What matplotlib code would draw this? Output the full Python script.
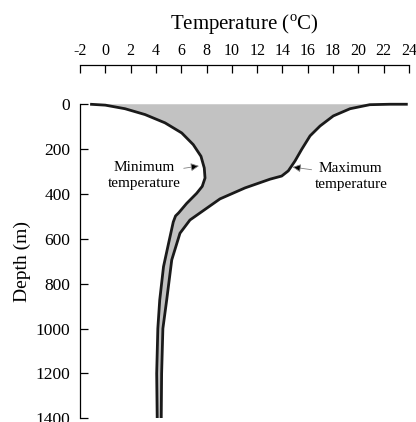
import numpy as np
import matplotlib.pyplot as plt

plt.rcParams['font.family'] = ['Liberation Serif', 'DejaVu Serif']
plt.rcParams['mathtext.fontset'] = 'custom'
plt.rcParams['mathtext.rm'] = 'Liberation Serif'
plt.rcParams['axes.unicode_minus'] = False

# minimum temperature profile (deg C vs depth m)
min_temp = [-1.2, 0.0, 1.56, 3.14, 4.72, 6.04, 6.95, 7.56, 7.82, 7.88, 7.66, 7.22,
            6.43, 5.8, 5.55, 5.37, 5.0, 4.6, 4.3, 4.15, 4.06, 4.1]
min_depth = [0, 4, 20, 46, 83, 128, 180, 232, 284, 329, 366, 397,
             442, 484, 498, 525, 620, 724, 873, 1000, 1200, 1400]

# maximum temperature profile
max_temp = [23.9, 22.5, 20.9, 19.34, 18.02, 16.97, 16.18, 15.52, 14.99, 14.46,
            13.94, 13.02, 11.04, 9.06, 6.69, 5.9, 5.25, 4.85, 4.55, 4.45, 4.42]
max_depth = [0, 0, 2, 20, 52, 97, 141, 201, 253, 297,
             320, 334, 373, 422, 516, 575, 694, 873, 1000, 1200, 1400]

temp_ticks = list(range(-2, 25, 2))
depth_ticks = list(range(0, 1401, 200))

fig = plt.figure(figsize=(4.16, 4.22), dpi=100)
ax = fig.add_axes([0.1923, 0.0088, 0.7909, 0.8372])

poly_t = np.concatenate([min_temp, max_temp[::-1]])
poly_d = np.concatenate([min_depth, max_depth[::-1]])
ax.fill(poly_t, poly_d, color='#c2c2c2', lw=0)
for t, d in ((min_temp, min_depth), (max_temp, max_depth)):
    ax.plot(t, d, color='#1a1a1a', lw=2.0, solid_capstyle='butt',
            solid_joinstyle='round')

ax.set_xlim(-2, 24)
ax.set_ylim(1400, -175)

ax.spines['right'].set_visible(False)
ax.spines['bottom'].set_visible(False)
ax.spines['left'].set_bounds(0, 1400)
for s in ('top', 'left'):
    ax.spines[s].set_linewidth(0.9)

ax.xaxis.tick_top()
ax.xaxis.set_label_position('top')
ax.set_xticks(temp_ticks)
ax.set_xticklabels([str(t) for t in temp_ticks])
ax.set_yticks(depth_ticks)
ax.tick_params(axis='both', direction='in', length=6, width=0.9)
ax.tick_params(axis='x', pad=4, labelsize=11.5)
ax.tick_params(axis='y', pad=7, labelsize=12.5)

ax.set_xlabel('Temperature ($^{\\rm o}$C)', fontsize=15, labelpad=10)
ax.set_ylabel('Depth (m)', fontsize=14)
# centre the depth label on the drawn part of the left spine
ax.yaxis.set_label_coords(-0.15, 0.444)

arrow = dict(arrowstyle='-|>', facecolor='black', edgecolor='#808080', lw=0.6,
             mutation_scale=12, shrinkA=0, shrinkB=0)
ax.annotate('Minimum\ntemperature', xy=(7.4, 275), xytext=(3.1, 317),
            ha='center', va='center', fontsize=11, linespacing=1.3,
            arrowprops=dict(arrow, relpos=(0.98, 0.72)))
ax.annotate('Maximum\ntemperature', xy=(14.8, 280), xytext=(19.4, 323),
            ha='center', va='center', fontsize=11, linespacing=1.3,
            arrowprops=dict(arrow, relpos=(0.02, 0.72)))

fig.savefig('out.png', dpi=100)
